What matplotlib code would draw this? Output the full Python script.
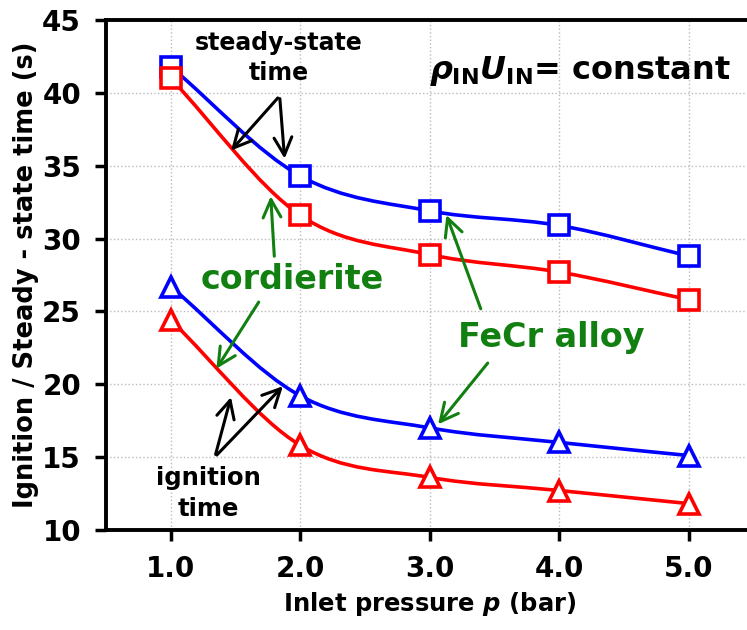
import matplotlib
matplotlib.use("Agg")
import matplotlib.pyplot as plt
import numpy as np
from matplotlib.path import Path
from matplotlib.patches import PathPatch

plt.rcParams['font.family'] = ['DejaVu Sans']
plt.rcParams['font.weight'] = 'bold'
plt.rcParams['mathtext.fontset'] = 'custom'
plt.rcParams['mathtext.rm'] = 'DejaVu Sans:bold'
plt.rcParams['mathtext.it'] = 'DejaVu Sans:italic:bold'
plt.rcParams['mathtext.bf'] = 'DejaVu Sans:bold'

pressure = [1.0, 2.0, 3.0, 4.0, 5.0]
steady_fecr = [41.8, 34.3, 31.9, 30.9, 28.8]
steady_cord = [41.0, 31.6, 28.9, 27.7, 25.8]
ign_fecr = [26.7, 19.2, 17.0, 16.0, 15.1]
ign_cord = [24.4, 15.8, 13.6, 12.7, 11.8]
xtick_labels = ['1.0', '2.0', '3.0', '4.0', '5.0']
yticks = [10, 15, 20, 25, 30, 35, 40, 45]

fig = plt.figure(figsize=(7.47, 6.30), dpi=100)
ax = fig.add_axes([0.142, 0.159, 0.867, 0.809])


def smooth_path(xs, ys):
    xs = np.asarray(xs, float)
    ys = np.asarray(ys, float)
    n = len(xs)
    verts = [(xs[0], ys[0])]
    codes = [Path.MOVETO]
    tx = np.zeros(n)
    ty = np.zeros(n)
    for i in range(n):
        a = max(i - 1, 0)
        b = min(i + 1, n - 1)
        tx[i] = (xs[b] - xs[a]) / (b - a)
        ty[i] = (ys[b] - ys[a]) / (b - a)
    for i in range(n - 1):
        c1 = (xs[i] + tx[i] / 3, ys[i] + ty[i] / 3)
        c2 = (xs[i + 1] - tx[i + 1] / 3, ys[i + 1] - ty[i + 1] / 3)
        verts += [c1, c2, (xs[i + 1], ys[i + 1])]
        codes += [Path.CURVE4] * 3
    return Path(verts, codes)


series = [
    (steady_fecr, 'blue', 's'),
    (steady_cord, 'red', 's'),
    (ign_fecr, 'blue', '^'),
    (ign_cord, 'red', '^'),
]
for ys, col, mk in series:
    ax.add_patch(PathPatch(smooth_path(pressure, ys), fill=False,
                           edgecolor=col, lw=2.6, zorder=3))
    ax.plot(pressure, ys, linestyle='none', marker=mk, markersize=15,
            markerfacecolor='white', markeredgecolor=col,
            markeredgewidth=2.6, zorder=4)

ax.set_xlim(0.5, 5.5)
ax.set_ylim(10, 45)
ax.set_xticks(pressure)
ax.set_xticklabels(xtick_labels)
ax.set_yticks(yticks)
ax.tick_params(axis='both', labelsize=20, width=2.5, length=8, direction='out')
ax.tick_params(axis='x', pad=10)
ax.tick_params(axis='y', pad=10)
for lab in ax.get_xticklabels() + ax.get_yticklabels():
    lab.set_fontweight('bold')
ax.grid(True, linestyle=':', color='#bbbbbb', lw=1)
for s in ['left', 'bottom', 'top']:
    ax.spines[s].set_linewidth(2.8)
ax.spines['right'].set_visible(False)

ax.set_xlabel('Inlet pressure $p$ (bar)', fontsize=17.5, fontweight='bold', labelpad=5)
ax.set_ylabel('Ignition / Steady - state time (s)', fontsize=18.5, fontweight='bold', labelpad=2)

ax.text(2.99, 40.95, r'$\rho_{\mathrm{IN}}U_{\mathrm{IN}}$= constant', fontsize=23,
        fontweight='bold', ha='left', va='baseline')

arrow_k = dict(arrowstyle='->', lw=2.2, mutation_scale=32)
# steady-state time
ax.text(1.83, 42.4, 'steady-state\ntime', fontsize=17, fontweight='bold',
        ha='center', va='center', linespacing=1.35)
ax.annotate('', xy=(1.45, 35.9), xytext=(1.84, 39.8),
            arrowprops=dict(color='black', **arrow_k))
ax.annotate('', xy=(1.88, 35.3), xytext=(1.84, 39.8),
            arrowprops=dict(color='black', **arrow_k))
# ignition time
ax.text(1.29, 12.5, 'ignition\ntime', fontsize=17.5, fontweight='bold',
        ha='center', va='center', linespacing=1.35)
ax.annotate('', xy=(1.47, 19.3), xytext=(1.34, 15.0),
            arrowprops=dict(color='black', **arrow_k))
ax.annotate('', xy=(1.88, 20.0), xytext=(1.34, 15.0),
            arrowprops=dict(color='black', **arrow_k))
# cordierite
green = '#118011'
ax.text(1.94, 27.2, 'cordierite', fontsize=24, fontweight='bold', color=green,
        ha='center', va='center')
ax.annotate('', xy=(1.77, 33.1), xytext=(1.80, 28.6),
            arrowprops=dict(color=green, **arrow_k))
ax.annotate('', xy=(1.34, 20.9), xytext=(1.69, 25.8),
            arrowprops=dict(color=green, **arrow_k))
# FeCr alloy
ax.text(3.94, 23.2, 'FeCr alloy', fontsize=24, fontweight='bold', color=green,
        ha='center', va='center')
ax.annotate('', xy=(3.12, 31.8), xytext=(3.40, 25.0),
            arrowprops=dict(color=green, **arrow_k))
ax.annotate('', xy=(3.05, 17.1), xytext=(3.46, 21.6),
            arrowprops=dict(color=green, **arrow_k))

fig.savefig('out.png', dpi=100)
